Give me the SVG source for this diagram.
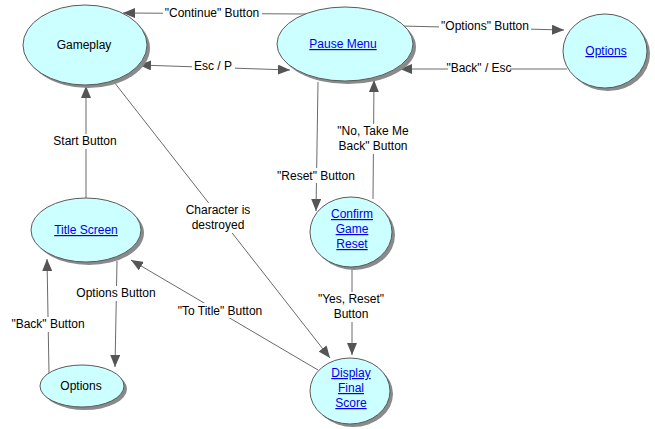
<svg xmlns="http://www.w3.org/2000/svg" width="655" height="429" viewBox="0 0 655 429">
<style>
.sh{fill:#8a8a8a;stroke:none}
.nd{fill:#ccffff;stroke:#5a5a5a;stroke-width:1}
.t{font-family:"Liberation Sans",Arial,sans-serif;font-size:12px;fill:#000;text-anchor:middle}
.lk{fill:#0000ee;text-decoration:underline}
.c{stroke:#6a6a6a;stroke-width:1;fill:none}
.lb{font-family:"Liberation Sans",Arial,sans-serif;font-size:12px;fill:#000;text-anchor:middle}
.bg{fill:#fff}
</style>
<defs>
<marker id="ah" viewBox="0 0 12 10" refX="12" refY="5" markerWidth="12" markerHeight="10" markerUnits="userSpaceOnUse" orient="auto-start-reverse">
<path d="M0,0 L12,5 L0,10 Z" fill="#555"/>
</marker>
</defs>
<rect width="655" height="429" fill="#fff"/>
<g id="connectors">
<line class="c" x1="307" y1="14" x2="123" y2="13" marker-end="url(#ah)"/>
<line class="c" x1="139" y1="65" x2="290" y2="70" marker-start="url(#ah)" marker-end="url(#ah)"/>
<line class="c" x1="402" y1="26" x2="564" y2="30" marker-end="url(#ah)"/>
<line class="c" x1="567" y1="69" x2="400" y2="69" marker-end="url(#ah)"/>
<line class="c" x1="318" y1="82" x2="316" y2="211" marker-end="url(#ah)"/>
<line class="c" x1="373" y1="199" x2="374" y2="80" marker-end="url(#ah)"/>
<line class="c" x1="352" y1="267" x2="352" y2="355" marker-end="url(#ah)"/>
<line class="c" x1="114" y1="82" x2="330" y2="358" marker-end="url(#ah)"/>
<line class="c" x1="86" y1="198" x2="86" y2="86" marker-end="url(#ah)"/>
<line class="c" x1="117" y1="261" x2="115" y2="367" marker-end="url(#ah)"/>
<line class="c" x1="49" y1="373" x2="47" y2="259" marker-end="url(#ah)"/>
<line class="c" x1="318" y1="370" x2="131" y2="260" marker-end="url(#ah)"/>
<g>
<rect class="bg" x="163" y="5" width="99" height="15"/>
<text class="lb" x="212" y="17">"Continue" Button</text>
<rect class="bg" x="192" y="58" width="43" height="15"/>
<text class="lb" x="213" y="70">Esc / P</text>
<rect class="bg" x="439" y="18" width="92" height="15"/>
<text class="lb" x="485" y="30">"Options" Button</text>
<rect class="bg" x="448" y="60" width="62" height="15"/>
<text class="lb" x="479" y="72">"Back" / Esc</text>
<rect class="bg" x="276" y="168" width="80" height="15"/>
<text class="lb" x="316" y="180">"Reset" Button</text>
<rect class="bg" x="334" y="124" width="78" height="30"/>
<text class="lb" x="373" y="135">"No, Take Me</text>
<text class="lb" x="373" y="150">Back" Button</text>
<rect class="bg" x="313" y="292" width="76" height="30"/>
<text class="lb" x="351" y="303">"Yes, Reset"</text>
<text class="lb" x="351" y="318">Button</text>
<rect class="bg" x="185" y="203" width="66" height="30"/>
<text class="lb" x="218" y="214">Character is</text>
<text class="lb" x="218" y="229">destroyed</text>
<rect class="bg" x="52" y="134" width="66" height="15"/>
<text class="lb" x="85" y="145">Start Button</text>
<rect class="bg" x="76" y="286" width="80" height="15"/>
<text class="lb" x="116" y="297">Options Button</text>
<rect class="bg" x="11" y="317" width="74" height="15"/>
<text class="lb" x="48" y="328">"Back" Button</text>
<rect class="bg" x="175" y="303" width="90" height="15"/>
<text class="lb" x="220" y="315">"To Title" Button</text>
</g>
</g>
<g id="gameplay">
<ellipse class="sh" cx="88" cy="48" rx="62" ry="40"/>
<ellipse class="nd" cx="85" cy="45" rx="62" ry="40"/>
<text class="t" x="84" y="49">Gameplay</text>
</g>
<g id="pause-menu">
<ellipse class="sh" cx="348" cy="47" rx="68" ry="37"/>
<ellipse class="nd" cx="345" cy="44" rx="68" ry="37"/>
<text class="t lk" x="343" y="48">Pause Menu</text>
</g>
<g id="options-top">
<ellipse class="sh" cx="608" cy="54" rx="42" ry="37"/>
<ellipse class="nd" cx="605" cy="51" rx="42" ry="37"/>
<text class="t lk" x="606" y="55">Options</text>
</g>
<g id="confirm-reset">
<ellipse class="sh" cx="354" cy="235" rx="41" ry="35"/>
<ellipse class="nd" cx="351" cy="232" rx="41" ry="35"/>
<text class="t lk" x="352" y="218">Confirm </text>
<text class="t lk" x="352" y="233">Game </text>
<text class="t lk" x="352" y="248">Reset</text>
</g>
<g id="title-screen">
<ellipse class="sh" cx="89" cy="233" rx="55" ry="32"/>
<ellipse class="nd" cx="86" cy="230" rx="55" ry="32"/>
<text class="t lk" x="86" y="234">Title Screen</text>
</g>
<g id="options-bottom">
<ellipse class="sh" cx="85" cy="389" rx="42" ry="21"/>
<ellipse class="nd" cx="82" cy="386" rx="42" ry="21"/>
<text class="t" x="81" y="390">Options</text>
</g>
<g id="display-final-score">
<ellipse class="sh" cx="353" cy="394" rx="40" ry="33"/>
<ellipse class="nd" cx="350" cy="391" rx="40" ry="33"/>
<text class="t lk" x="351" y="377">Display </text>
<text class="t lk" x="351" y="392">Final </text>
<text class="t lk" x="351" y="407">Score</text>
</g>
</svg>
